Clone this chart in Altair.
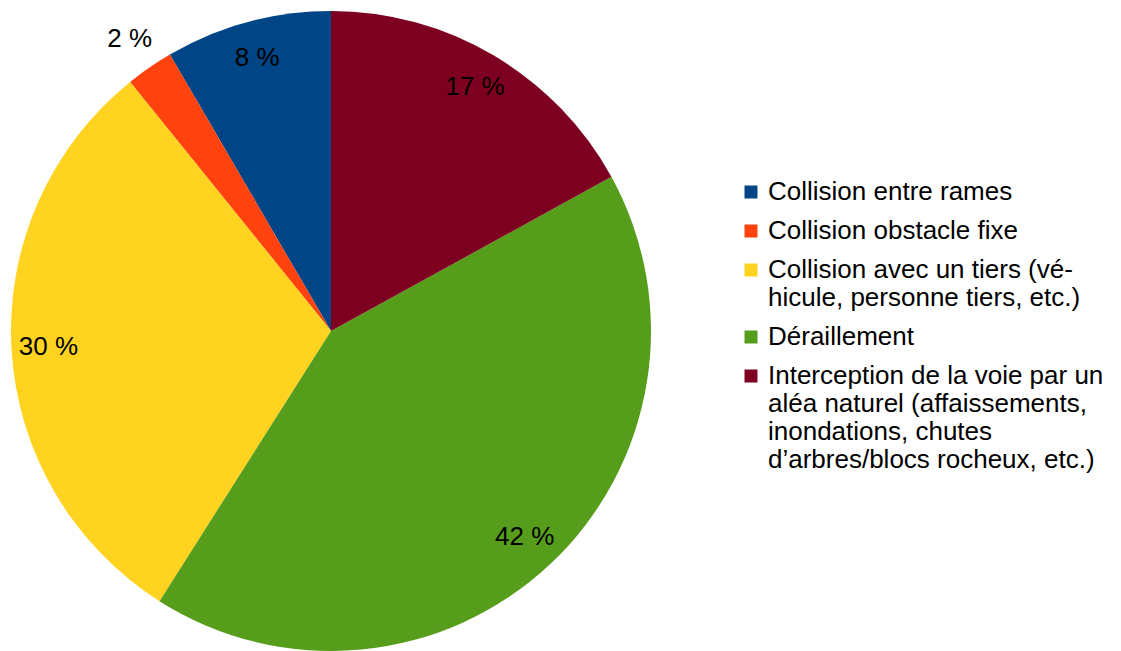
import altair as alt
import pandas as pd

categories = [
    "Collision entre rames",
    "Collision obstacle fixe",
    "Collision avec un tiers (vé-\nhicule, personne tiers, etc.)",
    "Déraillement",
    "Interception de la voie par un\naléa naturel (affaissements,\ninondations, chutes\nd’arbres/blocs rocheux, etc.)",
]
values = [8.4, 2.4, 30.2, 42.0, 17.0]
colors = ["#004586", "#ff420e", "#ffd320", "#579d1c", "#7e0021"]

df = pd.DataFrame({"cat": categories, "value": values, "idx": list(range(len(categories)))})

pie = alt.Chart(df).mark_arc(strokeWidth=0).encode(
    theta=alt.Theta("value:Q", stack=True),
    order=alt.Order("idx:Q", sort="descending"),
    color=alt.Color(
        "cat:N",
        scale=alt.Scale(domain=categories, range=colors),
        legend=alt.Legend(
            title=None,
            orient="none",
            legendX=738,
            legendY=179,
            labelExpr="split(datum.label, '\\n')",
            labelFont="Liberation Sans",
            labelFontSize=26,
            labelColor="#000000",
            labelLimit=600,
            labelOffset=4,
            symbolType="square",
            symbolSize=169,
            symbolStrokeWidth=0,
            symbolOpacity=1,
            rowPadding=13,
        ),
    ),
    x=alt.value(331),
    y=alt.value(331),
    radius=alt.value(320),
)

text = alt.Chart(df).transform_joinaggregate(
    total="sum(value)"
).transform_window(
    cum="sum(value)", sort=[alt.SortField("idx", order="descending")],
    frame=[None, 0],
).transform_calculate(
    mid="(datum.cum - datum.value / 2) / datum.total * 2 * PI",
    label="format(round(datum.value), 'd') + ' %'",
    r="datum.value < 5 ? 355 : 283",
).mark_text(font="Liberation Sans", fontSize=26, color="#000000").encode(
    text="label:N",
    theta=alt.Theta("mid:Q", scale=None, stack=None),
    radius=alt.Radius("r:Q", scale=None),
    x=alt.value(331),
    y=alt.value(331),
)

chart = alt.layer(pie, text).properties(
    width=1121, height=651, autosize=alt.AutoSizeParams(type="none"), padding=0, background="white"
).configure_view(stroke=None)

chart.save("out.html", embed_options={"renderer": "svg", "actions": False})
